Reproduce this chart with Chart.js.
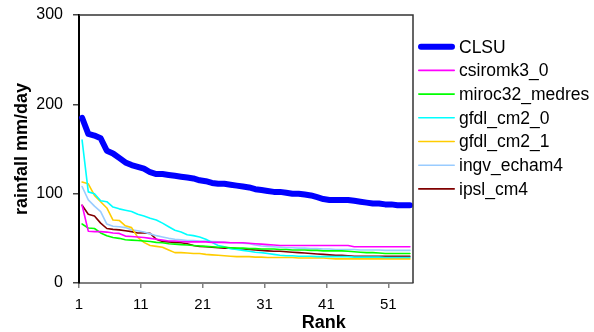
<!DOCTYPE html>
<html>
<head>
<meta charset="utf-8">
<script src="https://cdn.jsdelivr.net/npm/chart.js@4.4.1/dist/chart.umd.min.js"></script>
<style>
  html, body { margin: 0; padding: 0; background: #fff; }
  #wrap { width: 594px; height: 332px; }
</style>
</head>
<body>
<div id="wrap"><canvas id="myChart"></canvas></div>
<script>
// ranks 1..54 (one category per rank)
const ranks = [1, 2, 3, 4, 5, 6, 7, 8, 9, 10, 11, 12, 13, 14, 15, 16, 17, 18, 19, 20,
  21, 22, 23, 24, 25, 26, 27, 28, 29, 30, 31, 32, 33, 34, 35, 36, 37, 38, 39, 40,
  41, 42, 43, 44, 45, 46, 47, 48, 49, 50, 51, 52, 53, 54];

const clsu = [185, 167, 165, 162, 148, 145, 140, 135, 132, 130,
  128, 124, 122, 122, 121, 120, 119, 118, 117, 115,
  114, 112, 111, 111, 110, 109, 108, 107, 105, 104,
  103, 102, 102, 101, 100, 100, 99, 98, 96, 94,
  93, 93, 93, 93, 92, 91, 90, 89, 89, 88,
  88, 87, 87, 87];
const csiromk3_0 = [87, 58, 57.5, 57.5, 57, 56, 55.5, 52.5, 52, 51.5,
  51, 50, 49, 48, 47, 47, 46.5, 46, 46, 46,
  46, 45.5, 45.5, 45.5, 45, 45, 45, 44.5, 44, 43.5,
  43, 42.5, 42, 42, 42, 42, 42, 42, 42, 42,
  42, 42, 42, 42, 40.5, 40.5, 40.5, 40.5, 40.5, 40.5,
  40.5, 40.5, 40.5, 40.5];
const miroc32_medres = [66, 61.5, 61, 56, 53, 51, 50, 48.5, 48, 47.5,
  47, 46.5, 45.5, 45, 44, 43.5, 43, 42.5, 42, 41.5,
  41, 40.5, 40, 40, 39.5, 39, 39, 38.5, 38.5, 38,
  38, 38, 37.5, 37.5, 37, 37, 37, 36.5, 36.5, 36,
  36, 36, 36, 35.5, 35, 34.5, 34, 34, 33.5, 33,
  33, 33, 33, 33];
const gfdl_cm2_0 = [160, 102, 100, 92, 91, 85, 83, 81.5, 80, 77,
  75, 72.5, 70.5, 67, 63, 59, 57, 54, 53, 51.5,
  49, 45.5, 42, 40.5, 38.5, 37.5, 36.5, 35.5, 34.5, 34,
  33, 32, 31, 30.5, 30.5, 30, 30, 30, 29.5, 29.5,
  29.5, 29.5, 29.5, 29.5, 29, 29, 29, 29, 29, 28.5,
  28.5, 28.5, 28.5, 28.5];
const gfdl_cm2_1 = [113, 111, 98, 91, 84, 70.5, 70, 64, 62, 51,
  45.5, 42, 41, 40, 37, 34, 34, 33.5, 33, 33,
  32, 31.5, 31, 30.5, 30, 29.5, 29.5, 29.5, 29, 29,
  28.5, 28.5, 28.5, 28.5, 28.5, 28, 28, 28, 28, 28,
  27.5, 27, 27, 27, 27, 27, 27, 27, 27, 27,
  27, 27, 27, 27];
const ingv_echam4 = [108, 93, 86, 80, 66, 63.5, 63, 62, 59.5, 58.5,
  57, 55, 53, 51.5, 50, 49, 48.5, 47.5, 47.5, 47,
  47, 46.5, 46, 45.5, 45, 45, 44.5, 44, 42.5, 41.5,
  41, 40.5, 40, 39.5, 39.5, 39, 39, 38.5, 38.5, 38,
  38, 37.5, 37.5, 37.5, 37.5, 37, 37, 37, 37, 36.5,
  36.5, 36.5, 36.5, 36.5];
const ipsl_cm4 = [87, 77, 75, 67, 61, 60, 59.5, 58.5, 57.5, 56,
  56, 55.5, 49, 46.5, 46, 45.5, 45, 44, 42, 41,
  40.5, 40, 39.5, 39, 39, 38.5, 38, 37.5, 37, 36.5,
  36, 35.5, 35.5, 35, 34.5, 34, 33.5, 33, 32.5, 32,
  31.5, 31, 31, 30.5, 30, 30, 30, 30, 30, 30,
  30, 30, 30, 30];

const xTickRanks = [1, 11, 21, 31, 41, 51];
const yTicks = [0, 100, 200, 300];

const FONT = '"Liberation Sans", Arial, sans-serif';
Chart.defaults.font.family = FONT;
Chart.defaults.color = '#000';

function pts(values) {
  return values.map((v, i) => ({x: ranks[i], y: v}));
}

function series(label, values, color, width) {
  return {
    label: label,
    data: pts(values),
    borderColor: color,
    backgroundColor: color,
    borderWidth: width,
    pointRadius: 0,
    tension: 0,
    borderJoinStyle: 'round',
    borderCapStyle: 'round',
  };
}

// plot frame, off-centre "Rank" title and the legend
const extras = {
  id: 'extras',
  afterDraw(chart) {
    const {ctx, chartArea: a} = chart;
    ctx.save();
    ctx.strokeStyle = '#333';
    ctx.lineWidth = 1.5;
    ctx.beginPath();
    ctx.moveTo(a.left, a.top);
    ctx.lineTo(a.right, a.top);
    ctx.lineTo(a.right, a.bottom);
    ctx.stroke();

    ctx.fillStyle = '#000';
    ctx.font = 'bold 18px ' + FONT;
    ctx.textAlign = 'center';
    ctx.textBaseline = 'alphabetic';
    ctx.fillText('Rank', a.left + (a.right - a.left) * 0.733, 328);

    ctx.font = '17.5px ' + FONT;
    ctx.textAlign = 'left';
    ctx.textBaseline = 'middle';
    ctx.lineCap = 'round';
    chart.data.datasets.forEach((ds, i) => {
      const y = 46.7 + i * 23.7;
      const x0 = a.right + 5;
      ctx.strokeStyle = ds.borderColor;
      ctx.lineWidth = ds.borderWidth;
      ctx.beginPath();
      ctx.moveTo(x0 + ds.borderWidth / 2, y);
      ctx.lineTo(x0 + 37 - ds.borderWidth / 2, y);
      ctx.stroke();
      ctx.fillStyle = '#000';
      ctx.fillText(ds.label, x0 + 41, y + 1);
    });
    ctx.restore();
  }
};

const data = {
  datasets: [
    series('CLSU', clsu, '#0000ff', 6),
    series('csiromk3_0', csiromk3_0, '#ff00ff', 1.6),
    series('miroc32_medres', miroc32_medres, '#00ff00', 1.6),
    series('gfdl_cm2_0', gfdl_cm2_0, '#00ffff', 1.6),
    series('gfdl_cm2_1', gfdl_cm2_1, '#ffcc00', 1.6),
    series('ingv_echam4', ingv_echam4, '#99ccff', 1.6),
    series('ipsl_cm4', ipsl_cm4, '#800000', 1.6),
  ]
};

const config = {
  type: 'line',
  data: data,
  options: {
    responsive: false,
    animation: false,
    layout: {padding: {top: 15, right: 181, bottom: 0, left: 0}},
    plugins: {
      legend: {display: false},
      tooltip: {enabled: false},
    },
    scales: {
      x: {
        type: 'linear',
        min: 0.5,
        max: 54.5,
        afterBuildTicks: (scale) => {
          // tick marks sit on the category boundary left of each labelled rank
          scale.ticks = xTickRanks.map(r => ({value: r - 0.5}));
        },
        afterFit: (scale) => { scale.height = 49; },
        ticks: {
          font: {size: 15},
          padding: 8,
          maxRotation: 0,
          callback: (v, i) => String(xTickRanks[i]),
        },
        grid: {drawOnChartArea: false, drawTicks: true, tickLength: 5, color: '#808080', lineWidth: 1.5},
        border: {display: true, color: '#808080', width: 2},
      },
      y: {
        min: 0,
        max: 300,
        afterBuildTicks: (scale) => {
          scale.ticks = yTicks.map(v => ({value: v}));
        },
        afterFit: (scale) => {
          scale.width = 79;
          scale.paddingTop = 0;
          scale.paddingBottom = 0;
        },
        ticks: {font: {size: 16}, padding: 10},
        grid: {drawOnChartArea: false, drawTicks: true, tickLength: 6, color: '#444', lineWidth: 1.5},
        border: {display: true, color: '#000', width: 2},
        title: {
          display: true,
          text: 'rainfall mm/day',
          font: {size: 18, weight: 'bold'},
          padding: {top: 11, bottom: 0},
        },
      },
    },
  },
  plugins: [extras],
};

const canvas = document.getElementById('myChart');
canvas.width = 594;
canvas.height = 332;
const myChart = new Chart(canvas, config);
</script>
</body>
</html>
